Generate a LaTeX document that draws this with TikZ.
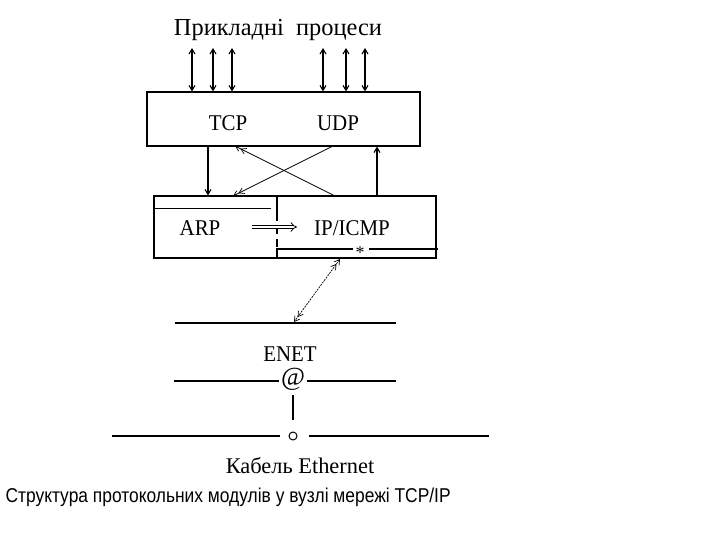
\documentclass[tikz,border=0pt]{standalone}
\usepackage{fontspec}
\setmainfont{Liberation Serif}
\newfontfamily\capfont[FakeStretch=0.87]{Liberation Sans}
\newfontfamily\narrowserif[FakeStretch=0.93]{Liberation Serif}
\usetikzlibrary{arrows.meta,calc}
\begin{document}
\begin{tikzpicture}[x=1pt,y=-1pt,line width=1.1pt,
  box/.style={draw,line width=1.1pt,inner sep=0pt},
  lbl/.style={font=\narrowserif\fontsize{22.5}{24}\selectfont,inner sep=0pt},
  dblarr/.style={{Straight Barb[length=5pt,width=6pt]}-{Straight Barb[length=5pt,width=6pt]}},
  thinarr/.style={line width=0.7pt,-{Straight Barb[length=5pt,width=6pt]Straight Barb[length=5pt,width=6pt]}},
  downarr/.style={-{Straight Barb[length=5pt,width=6pt]}}]
\useasboundingbox (0,0) rectangle (720,540);
% top label
\node[inner sep=0pt,font=\fontsize{24.4}{26}\selectfont] (apps) at (278,30) {Прикладні\ \ процеси};
% TCP/UDP box
\node[box,minimum width=273pt,minimum height=54pt] (tl) at (283.5,119) {};
\node[lbl] (tcp) at (228,123) {TCP};
\node[lbl] (udp) at (338,123) {UDP};
\foreach \x/\n in {192/a1,213/a2,232/a3,323/a4,346/a5,365/a6}{
  \coordinate (\n) at (\x,48);
  \draw[dblarr] (\n) -- (\n |- tl.north);
}
% ARP / IP box
\node[box,minimum width=282pt,minimum height=62pt] (ll) at (295,227) {};
\node[lbl] (arp) at (200,228) {ARP};
\node[lbl] (ip) at (352,228) {IP/ICMP};
\draw (ll.north west) ++(0,13) coordinate (h1) -- ++(118,0) coordinate (h2);
\coordinate (d0) at (277,196);
\coordinate (d1) at (277,213);
\coordinate (d2) at (277,248);
\coordinate (d3) at (277,258);
\draw (d0) -- (d1);
\draw[dash pattern=on 8pt off 5pt] (d1) -- (d2);
\draw (d3) -- (277,249) coordinate (s0) -- (353,249) coordinate (s1);
\node[inner sep=0pt,font=\fontsize{18}{20}\selectfont] (star) at (360,253) {*};
\draw (369,249) coordinate (s2) -- (438,249) coordinate (s3);
\draw[double,double distance=2.5pt,line width=0.8pt,-{Implies}] (252,227) coordinate (i0) -- (297,227) coordinate (i1);
% connectors between boxes
\coordinate (c1) at (208,0);
\draw[downarr] (c1 |- tl.south) -- (c1 |- ll.north);
\coordinate (c2) at (377,0);
\draw[downarr] (c2 |- ll.north) -- (c2 |- tl.south);
\coordinate (x1) at (333,146);
\coordinate (x2) at (233,196);
\coordinate (x3) at (335,196);
\coordinate (x4) at (235,146);
\draw[thinarr] (x1) -- (x2);
\draw[thinarr] (x3) -- (x4);
% link to ENET
\coordinate (e0) at (340,259);
\coordinate (e1) at (294,322);
\draw[line width=0.7pt,dash pattern=on 2pt off 1pt,
  {Straight Barb[length=5pt,width=6pt]Straight Barb[length=5pt,width=6pt]}-{Straight Barb[length=5pt,width=6pt]Straight Barb[length=5pt,width=6pt]}] (e0) -- (e1);
\draw (175,323) coordinate (l0) -- (396,323) coordinate (l1);
\node[lbl] (enet) at (290,354) {ENET};
\node[inner sep=1pt,font=\fontsize{26}{28}\selectfont] (at) at (293,379) {@};
\coordinate (m0) at (174,381);
\coordinate (m1) at (396,381);
\draw (m0) -- (m0 -| at.west);
\draw (m1 -| at.east) -- (m1);
\coordinate (v0) at (293,395);
\coordinate (v1) at (293,420);
\draw (v0) -- (v1);
\node[draw,circle,line width=1pt,minimum size=8pt,inner sep=0pt] (o) at (293,436) {};
\draw (112,436) coordinate (k0) -- ($(o.west)+(-9,0)$);
\draw ($(o.east)+(11,0)$) -- (489,436) coordinate (k1);
\node[inner sep=0pt,font=\fontsize{22.4}{24}\selectfont] (cable) at (300,466) {Кабель Ethernet};
% caption
\node[inner sep=0pt,anchor=west,font=\capfont\fontsize{20}{22}\selectfont] (cap) at (5,497) {Структура протокольних модулів у вузлі мережі TCP/IP};
\end{tikzpicture}
\end{document}
